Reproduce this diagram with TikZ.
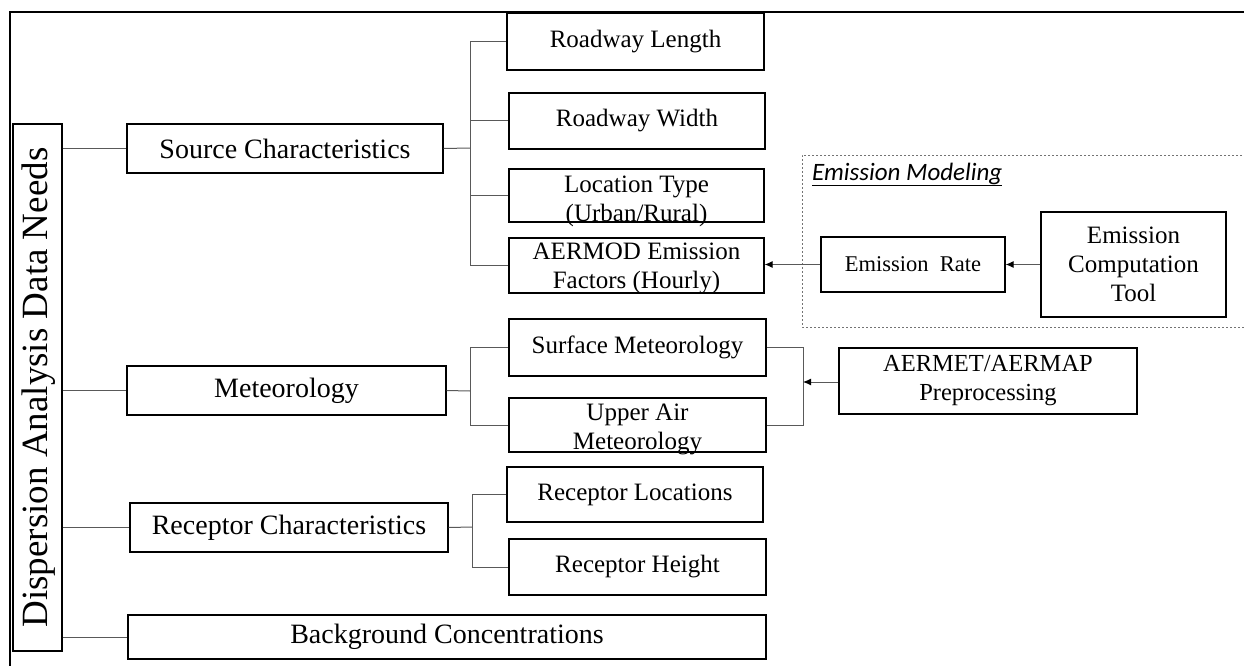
\documentclass[tikz,border=0pt]{standalone}
\usepackage{fontspec}
\setmainfont{Liberation Serif}
\newfontfamily\calib{Carlito}
\usetikzlibrary{arrows.meta,calc}
\tikzset{
  box/.style={draw=black, line width=1.3pt, inner sep=0pt, align=center,
              font=\fontsize{25}{29}\selectfont},
  topbox/.style={box, font=\fontsize{28}{32}\selectfont},
  plain/.style={align=center, inner sep=0pt, font=\fontsize{25}{29}\selectfont},
  link/.style={draw=black!65, line width=1pt},
  arr/.style={link, -{Latex[length=8pt,width=7pt,black]}},
}
\begin{document}
\begin{tikzpicture}[x=1pt,y=-1pt]
\useasboundingbox (0,0) rectangle (1244,666);

% outer frame (top and left only)
\draw[line width=2pt] (10,666) -- (10,12) -- (1244,12);

% root
\node[box, minimum width=49pt, minimum height=527pt] (need) at (37.5,387.5) {};
\node[rotate=90, inner sep=0pt, font=\fontsize{37}{40}\selectfont] (needtxt) at (39,387.5) {Dispersion Analysis Data Needs};

% first level
\node[topbox, minimum width=316pt, minimum height=49pt] (src) at (285,148.5) {Source Characteristics};
\node[topbox, minimum width=319pt, minimum height=49pt] (met) at (286.5,390.5) {Meteorology};
\node[topbox, minimum width=318pt, minimum height=49pt] (rec) at (289,527.5) {Receptor Characteristics};
\node[topbox, minimum width=638pt, minimum height=44pt] (bg)  at (447,637) {Background Concentrations};

% source characteristics
\node[box, minimum width=257pt, minimum height=57pt] (len) at (635.5,41.5) {Roadway Length};
\node[box, minimum width=256pt, minimum height=56pt] (wid) at (637,121) {Roadway Width};
\node[box, minimum width=255pt, minimum height=53pt] (loc) at (636.5,195.5) {};
\node[plain] (loctxt) at (636.5,201) {Location Type\\(Urban/Rural)};
\node[box, minimum width=255pt, minimum height=55pt] (aer) at (636.5,265.5) {};
\node[plain] (aertxt) at (636.5,268) {AERMOD Emission\\Factors (Hourly)};

% meteorology
\node[box, minimum width=257pt, minimum height=57pt] (sfc) at (637.5,347.5) {Surface Meteorology};
\node[box, minimum width=257pt, minimum height=54pt] (upa) at (637.5,425) {};
\node[plain] (upatxt) at (637.5,429) {Upper Air\\Meteorology};

% receptors
\node[box, minimum width=256pt, minimum height=55pt] (rloc) at (635,494.5) {Receptor Locations};
\node[box, minimum width=257pt, minimum height=56pt] (rhgt) at (637.5,567) {Receptor Height};

% emission modeling group
\draw[black!55, line width=0.9pt, dash pattern=on 2pt off 2pt]
  (1250,155) -- (802,155) -- (802,327) -- (1250,327);
\node[anchor=base west, inner sep=0pt, font=\calib\itshape\fontsize{25}{29}\selectfont]
  (emlabel) at (812,180) {\underline{Emission Modeling}};
\node[box, minimum width=184pt, minimum height=55pt, font=\fontsize{22.5}{27}\selectfont] (erate) at (913,264.5) {Emission\ \ Rate};
\node[box, minimum width=185pt, minimum height=105pt] (ect) at (1133.5,264.5) {Emission\\Computation\\Tool};

% preprocessing
\node[box, minimum width=298pt, minimum height=66pt, font=\fontsize{24.5}{29}\selectfont] (aermet) at (988,381) {AERMET/AERMAP\\Preprocessing};

% junction coordinates
\coordinate (sj) at (470,148);
\coordinate (mj) at (470,391);
\coordinate (rj) at (472,527);
\coordinate (mr) at (803,382);

% root to first level
\draw[link] (need.east |- src) -- (src.west);
\draw[link] (need.east |- met) -- (met.west);
\draw[link] (need.east |- rec) -- (rec.west);
\draw[link] (need.east |- bg) -- (bg.west);

% source tree
\draw[link] (src.east) -- (sj);
\draw[link] (sj |- len) -- (sj |- aer);
\draw[link] (sj |- len) -- (len.west);
\draw[link] (sj |- wid) -- (wid.west);
\draw[link] (sj |- loc) -- (loc.west);
\draw[link] (sj |- aer) -- (aer.west);

% meteorology tree
\draw[link] (met.east) -- (mj);
\draw[link] (sfc.west) -- (mj |- sfc) -- (mj |- upa) -- (upa.west);
\draw[link] (sfc.east) -- (mr |- sfc) -- (mr |- upa) -- (upa.east);
\draw[arr] (mr -| aermet.west) -- (mr);

% receptor tree
\draw[link] (rec.east) -- (rj);
\draw[link] (rloc.west) -- (rj |- rloc) -- (rj |- rhgt) -- (rhgt.west);

% emission flow
\draw[arr] (ect.west) -- (ect.west -| erate.east);
\draw[arr] (erate.west) -- (erate.west -| aer.east);
\end{tikzpicture}
\end{document}
